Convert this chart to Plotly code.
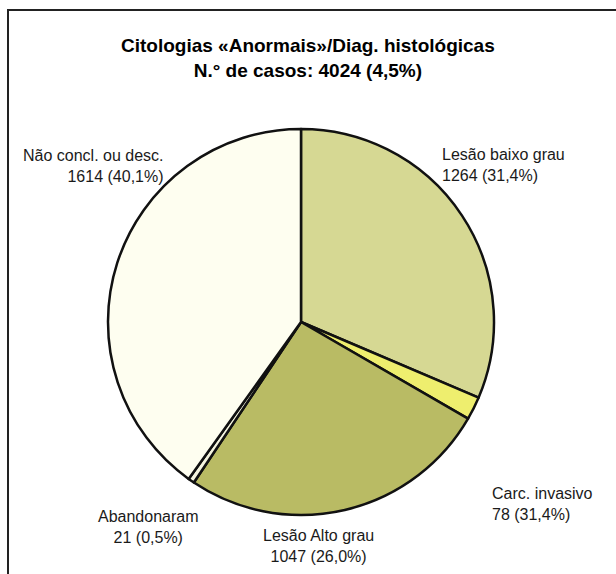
import plotly.graph_objects as go

# Slices in clockwise order starting at 12 o'clock
categories = ["Lesão baixo grau", "Carc. invasivo", "Lesão Alto grau", "Abandonaram", "Não concl. ou desc."]
counts = [1264, 78, 1047, 21, 1614]
pct_labels = ["31,4%", "31,4%", "26,0%", "0,5%", "40,1%"]
colors = ["#d6d893", "#eeee6e", "#b9bb64", "#f4f4df", "#fefef0"]

W, H = 616, 574
cx, cy, r = 301, 322, 193  # pie centre and radius in pixels

fig = go.Figure(go.Pie(
    labels=categories,
    values=counts,
    sort=False,
    direction="clockwise",
    rotation=0,
    textinfo="none",
    hoverinfo="label+value",
    marker=dict(colors=colors, line=dict(color="#111111", width=2.5)),
    domain=dict(x=[(cx - r) / W, (cx + r) / W], y=[1 - (cy + r) / H, 1 - (cy - r) / H]),
    showlegend=False,
))

def px(x):
    return x / W

def py(y):
    return 1 - y / H

# label anchor positions (pixels) and alignment for each slice
label_pos = {
    "Lesão baixo grau": (440, 165, "left"),
    "Carc. invasivo": (490, 504, "left"),
    "Lesão Alto grau": (318, 546, "center"),
    "Abandonaram": (148, 527, "center"),
    "Não concl. ou desc.": (166, 166, "right"),
}

annotations = []
for name, n, p in zip(categories, counts, pct_labels):
    x, y, align = label_pos[name]
    annotations.append(dict(
        x=px(x), y=py(y), xref="paper", yref="paper",
        text=f"{name}<br>{n} ({p})", showarrow=False,
        xanchor=align, yanchor="middle", align=align,
        font=dict(family="Liberation Sans, Arial, sans-serif", size=16, color="#1a1a1a"),
    ))

annotations.append(dict(
    x=px(308), y=py(58), xref="paper", yref="paper",
    text="<b>Citologias «Anormais»/Diag. histológicas</b><br><b>N.° de casos: 4024 (4,5%)</b>",
    showarrow=False, xanchor="center", yanchor="middle", align="center",
    font=dict(family="Liberation Sans, Arial, sans-serif", size=19, color="#000000"),
))

# frame: top and left rules
shapes = [
    dict(type="line", xref="paper", yref="paper", x0=px(7), x1=1, y0=py(10), y1=py(10),
         line=dict(color="#222222", width=2)),
    dict(type="line", xref="paper", yref="paper", x0=px(8), x1=px(8), y0=py(10), y1=0,
         line=dict(color="#222222", width=2)),
]

fig.update_layout(
    width=W, height=H,
    margin=dict(l=0, r=0, t=0, b=0),
    paper_bgcolor="white", plot_bgcolor="white",
    annotations=annotations, shapes=shapes,
)

fig.write_html("out.html")
